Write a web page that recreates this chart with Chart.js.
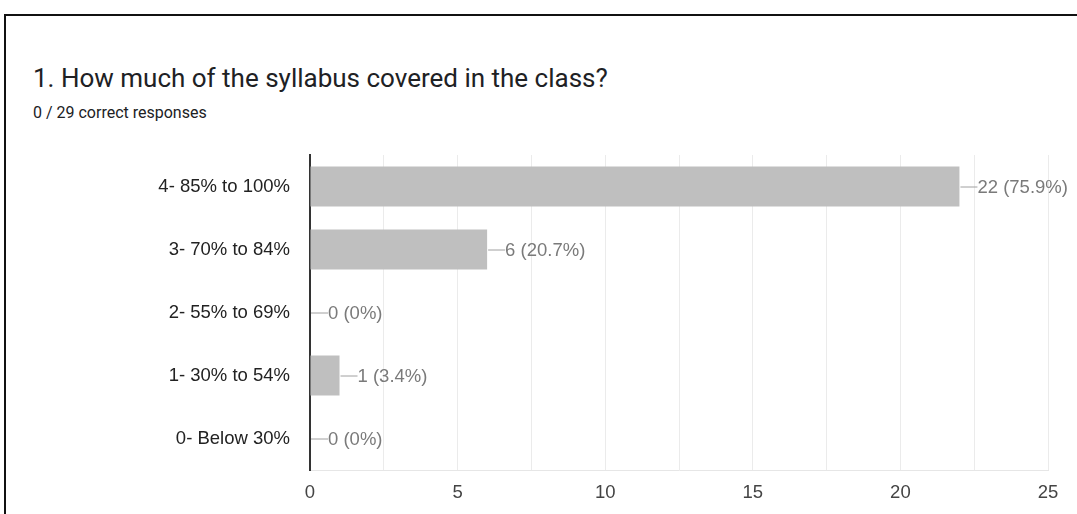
<!DOCTYPE html>
<html>
<head>
<meta charset="utf-8">
<script src="https://cdn.jsdelivr.net/npm/chart.js@4.4.1/dist/chart.umd.min.js"></script>
<style>
  html, body { margin: 0; padding: 0; background: #fff; }
  body { width: 1077px; height: 514px; position: relative; overflow: hidden; }
  #frame { position: absolute; left: 4px; top: 14px; width: 1080px; height: 520px;
           border-top: 2px solid #111; border-left: 2px solid #111; box-sizing: border-box; }
  #title { position: absolute; left: 33px; top: 63px; font-family: Roboto, "Liberation Sans", sans-serif;
           font-size: 26px; color: #202124; white-space: nowrap; }
  #subtitle { position: absolute; left: 33px; top: 103px; font-family: Roboto, "Liberation Sans", sans-serif;
           font-size: 16px; color: #202124; white-space: nowrap; }
  #wrap { position: absolute; left: 0; top: 0; width: 1077px; height: 514px; }
</style>
</head>
<body>
<div id="frame"></div>
<div id="title">1. How much of the syllabus covered in the class?</div>
<div id="subtitle">0 / 29 correct responses</div>
<div id="wrap"><canvas id="c" width="1077" height="514"></canvas></div>
<script>
const categories = ["4- 85% to 100%", "3- 70% to 84%", "2- 55% to 69%", "1- 30% to 54%", "0- Below 30%"];
const counts = [22, 6, 0, 1, 0];
const xTickValues = [0, 5, 10, 15, 20, 25];

const total = counts.reduce((a, b) => a + b, 0);
function pctText(v) {
  const p = v / total * 100;
  let s = p.toFixed(1);
  if (s.endsWith('.0')) s = s.slice(0, -2);
  return v + ' (' + s + '%)';
}

const FONT = '"Liberation Sans", Arial, sans-serif';

const valueLabels = {
  id: 'valueLabels',
  afterDatasetsDraw(chart) {
    const ctx = chart.ctx;
    const meta = chart.getDatasetMeta(0);
    ctx.save();
    ctx.font = '18.5px ' + FONT;
    ctx.textBaseline = 'middle';
    ctx.textAlign = 'left';
    meta.data.forEach((el, i) => {
      const x = el.x, y = el.y;
      ctx.strokeStyle = '#a0a0a0';
      ctx.lineWidth = 1;
      ctx.beginPath();
      ctx.moveTo(x + 1, y + 0.5);
      ctx.lineTo(x + 18, y + 0.5);
      ctx.stroke();
      ctx.fillStyle = '#7a7a7a';
      ctx.fillText(pctText(counts[i]), x + 18, y + 1);
    });
    ctx.restore();
  }
};

new Chart(document.getElementById('c'), {
  type: 'bar',
  data: {
    labels: categories,
    datasets: [{
      data: counts,
      backgroundColor: '#bfbfbf',
      borderWidth: 0,
      categoryPercentage: 1.0,
      barPercentage: 0.635
    }]
  },
  options: {
    indexAxis: 'y',
    responsive: false,
    animation: false,
    devicePixelRatio: 1,
    layout: { padding: { left: 0, right: 29, top: 155, bottom: 0 } },
    plugins: { legend: { display: false }, tooltip: { enabled: false }, title: { display: false } },
    scales: {
      x: {
        min: 0, max: 25,
        afterBuildTicks(scale) {
          const t = [];
          for (let v = 0; v <= 25; v += 2.5) t.push({ value: v });
          scale.ticks = t;
        },
        afterFit(scale) { scale.height = 44; },
        grid: { color: '#ebebeb', lineWidth: 1, drawTicks: false },
        border: { display: true, color: '#e6e6e6', width: 1 },
        ticks: {
          padding: 12,
          color: '#444',
          font: { family: FONT, size: 18.5 },
          autoSkip: false,
          maxRotation: 0,
          callback: (v) => xTickValues.includes(v) ? String(v) : ''
        }
      },
      y: {
        afterFit(scale) { scale.width = 310; },
        grid: { display: false, drawTicks: false },
        border: { display: true, color: '#333', width: 2 },
        ticks: {
          padding: 20,
          color: '#222',
          font: { family: FONT, size: 18.5 }
        }
      }
    }
  },
  plugins: [valueLabels]
});
</script>
</body>
</html>
